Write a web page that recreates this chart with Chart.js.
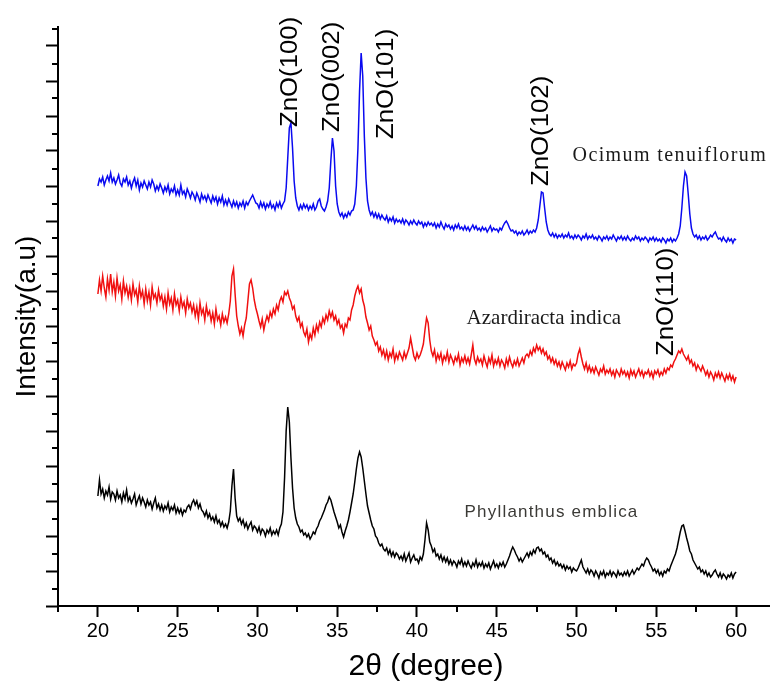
<!DOCTYPE html>
<html>
<head>
<meta charset="utf-8">
<script src="https://cdn.jsdelivr.net/npm/chart.js@4.4.1/dist/chart.umd.min.js"></script>
<style>
  html, body { margin: 0; padding: 0; background: #fff; overflow: hidden; }
  canvas { display: block; }
</style>
</head>
<body>
<canvas id="xrd" width="794" height="689"></canvas>
<script>
// scan grid: 20.0 .. 60.0 deg 2theta, 0.1 deg per step
const scanStart = 20;
const scanStep = 0.1;

// Ocimum tenuiflorum (blue), one row per degree
const ocimumCounts = [
  420, 427, 424, 429, 421, 426, 430, 425, 433, 424,
  428, 422, 426, 431, 423, 420, 427, 424, 429, 421,
  425, 418, 424, 428, 420, 426, 416, 423, 419, 425,
  421, 417, 424, 419, 426, 422, 415, 420, 416, 422,
  418, 413, 419, 415, 421, 412, 417, 414, 420, 411,
  416, 411, 421, 412, 415, 409, 417, 413, 408, 414,
  411, 406, 413, 409, 404, 412, 407, 410, 405, 411,
  407, 403, 410, 405, 409, 402, 408, 404, 410, 401,
  406, 401, 407, 403, 399, 405, 400, 404, 398, 403,
  400, 405, 398, 404, 401, 405, 408, 411, 407, 403,
  402, 398, 404, 399, 403, 397, 402, 399, 404, 398,
  401, 396, 403, 399, 404, 398, 402, 405, 418, 448,
  478, 483, 458, 425, 408, 400, 396, 401, 397, 402,
  398, 401, 396, 400, 397, 402, 396, 399, 405, 407,
  400, 397, 395, 399, 405, 418, 445, 468, 455, 420,
  402, 394, 390, 393, 388, 392, 389, 394, 391, 395,
  396, 402, 420, 458, 515, 553, 530, 470, 428, 405,
  396, 391, 394, 389, 393, 388, 392, 387, 391, 388,
  386, 390, 384, 388, 385, 389, 383, 387, 384, 386,
  383, 387, 382, 386, 384, 381, 385, 382, 386, 383,
  381, 385, 382, 384, 379, 383, 380, 384, 381, 383,
  380, 383, 378, 382, 379, 384, 380, 377, 382, 379,
  381, 377, 380, 376, 381, 378, 382, 377, 379, 376,
  380, 376, 379, 375, 378, 381, 377, 380, 376, 378,
  375, 379, 376, 378, 374, 377, 380, 375, 378, 376,
  377, 374, 378, 376, 380, 383, 385, 382, 378, 375,
  376, 373, 375, 371, 374, 372, 375, 371, 373, 376,
  372, 375, 373, 376, 374, 378, 386, 400, 414, 413,
  398, 384, 376, 372, 370, 373, 369, 372, 368, 371,
  369, 372, 368, 371, 369, 373, 368, 370, 367, 371,
  368, 371, 369, 366, 370, 368, 372, 367, 370, 368,
  371, 367, 369, 366, 370, 368, 365, 369, 367, 370,
  366, 369, 367, 371, 368, 365, 369, 367, 370, 366,
  369, 366, 370, 367, 365, 368, 366, 370, 367, 369,
  365, 368, 366, 369, 367, 364, 368, 366, 369, 365,
  368, 365, 367, 364, 368, 366, 363, 367, 365, 368,
  364, 367, 365, 368, 372, 380, 398, 420, 434, 430,
  412, 392, 378, 372, 369, 371, 367, 370, 366, 369,
  367, 370, 366, 368, 371, 369, 372, 374, 370, 367,
  368, 365, 369, 366, 364, 368, 365, 367, 363, 367,
  366
];

// Azardiracta indica (red)
const azardiractaCounts = [
  312, 326, 315, 330, 318, 309, 327, 316, 332, 314,
  324, 310, 328, 315, 321, 307, 325, 313, 320, 309,
  318, 306, 322, 311, 316, 304, 320, 309, 315, 302,
  317, 305, 314, 301, 319, 308, 312, 303, 316, 306,
  311, 300, 309, 297, 313, 302, 308, 296, 312, 301,
  306, 295, 309, 299, 304, 293, 307, 298, 303, 294,
  301, 290, 299, 287, 303, 292, 297, 286, 300, 291,
  295, 285, 293, 282, 297, 286, 290, 281, 292, 284,
  289, 283, 292, 305, 330, 337, 312, 290, 280, 272,
  278, 270, 281, 288, 305, 322, 326, 318, 306, 298,
  292, 285, 279, 287, 276, 284, 290, 285, 294, 289,
  297, 292, 301, 296, 305, 309, 304, 314, 311, 315,
  308, 304, 297, 300, 290, 285, 289, 279, 283, 274,
  270, 277, 264, 272, 267, 278, 271, 281, 275, 284,
  279, 288, 283, 291, 286, 295, 289, 294, 286, 290,
  282, 286, 278, 281, 273, 282, 279, 288, 286, 296,
  301, 310, 316, 320, 313, 317, 306, 300, 289, 283,
  276, 280, 270, 266, 261, 264, 255, 259, 251, 256,
  248, 255, 246, 253, 249, 257, 245, 252, 247, 254,
  250, 246, 254, 248, 253, 258, 268, 259, 250, 246,
  253, 248, 251, 256, 262, 276, 288, 283, 266, 255,
  250, 256, 245, 252, 247, 253, 243, 250, 246, 254,
  244, 251, 247, 242, 249, 245, 252, 241, 248, 244,
  250, 243, 248, 242, 251, 261, 247, 242, 249, 244,
  247, 241, 250, 244, 239, 248, 243, 251, 240, 246,
  242, 248, 240, 246, 243, 238, 247, 241, 249, 243,
  239, 245, 241, 247, 240, 244, 248, 243, 250, 252,
  249, 255, 251, 258, 254, 261, 256, 259, 253, 257,
  251, 254, 247, 250, 244, 248, 242, 246, 240, 244,
  238, 244, 240, 236, 243, 239, 245, 237, 242, 240,
  243, 252, 257, 249, 242, 237, 243, 235, 240, 234,
  238, 233, 239, 235, 231, 237, 234, 240, 232, 236,
  233, 237, 231, 235, 229, 236, 233, 230, 237, 232,
  235, 230, 234, 228, 236, 231, 235, 229, 233, 237,
  231, 235, 229, 234, 232, 236, 230, 234, 228, 235,
  232, 236, 230, 234, 231, 237, 233, 238, 236, 241,
  239, 244, 247, 251, 255, 253, 257, 252, 249, 246,
  250, 243, 246, 240, 243, 236, 241, 238, 235, 240,
  236, 231, 235, 229, 234, 231, 226, 233, 229, 234,
  228, 233, 229, 225, 231, 227, 232, 226, 230, 224,
  229
];

// Phyllanthus emblica (black)
const phyllanthusCounts = [
  110, 126, 112, 117, 108, 115, 111, 119, 107, 114,
  112, 106, 115, 108, 111, 104, 113, 107, 116, 105,
  109, 103, 107, 112, 101, 106, 110, 102, 108, 104,
  99, 106, 101, 104, 97, 103, 108, 98, 102, 96,
  101, 95, 100, 97, 103, 94, 99, 96, 101, 93,
  98, 93, 97, 91, 96, 94, 99, 101, 97, 103,
  106, 101, 105, 98, 102, 96, 94, 90, 95, 88,
  92, 86, 89, 84, 90, 83, 86, 80, 84, 79,
  82, 78, 84, 95, 120, 137, 108, 90, 85, 88,
  82, 86, 79, 83, 77, 81, 84, 76, 80, 78,
  74, 79, 72, 77, 75, 70, 76, 73, 78, 71,
  75, 72, 76, 71, 78, 82, 94, 128, 175, 199,
  184, 148, 118, 98, 88, 82, 79, 74, 76, 71,
  73, 69, 72, 67, 70, 74, 72, 77, 80, 85,
  88, 92, 96, 101, 104, 109, 106, 100, 94, 89,
  84, 78, 81, 74, 69, 75, 80, 86, 94, 103,
  112, 124, 137, 148, 154, 149, 138, 125, 112, 100,
  93, 86, 80, 77, 70, 68, 63, 60, 62, 57,
  55, 58, 52, 56, 50, 54, 49, 53, 51, 47,
  50, 46, 52, 45, 49, 53, 44, 48, 51, 46,
  47, 43, 49, 46, 52, 66, 83, 76, 64, 60,
  54, 57, 50, 52, 47, 51, 45, 49, 44, 48,
  42, 46, 41, 45, 43, 39, 45, 42, 47, 40,
  44, 40, 45, 41, 38, 43, 40, 46, 39, 43,
  40, 44, 38, 42, 39, 43, 37, 41, 45, 39,
  42, 38, 43, 40, 44, 39, 42, 46, 50, 55,
  59, 56, 52, 49, 45, 48, 44, 47, 50, 53,
  49, 54, 51, 56, 53, 58, 59, 55, 57, 52,
  54, 49, 51, 46, 48, 43, 46, 41, 44, 40,
  42, 38, 41, 36, 40, 37, 39, 34, 38, 36,
  35, 38, 42, 46, 39, 36, 33, 37, 32, 36,
  34, 30, 35, 32, 28, 34, 31, 35, 29, 33,
  31, 35, 30, 34, 32, 29, 35, 31, 33, 30,
  34, 31, 35, 30, 33, 36, 32, 35, 38, 36,
  39, 42, 40, 45, 48, 46, 42, 39, 35, 37,
  33, 36, 31, 34, 30, 35, 33, 37, 35, 40,
  44, 48, 52, 58, 66, 74, 80, 81, 75, 68,
  62, 55, 52, 46, 43, 40, 37, 39, 34, 36,
  32, 35, 30, 33, 29, 31, 34, 36, 32, 29,
  33, 28, 32, 30, 27, 31, 29, 33, 28, 32,
  34
];

// axis ticks
const xLabelTicks = [20, 25, 30, 35, 40, 45, 50, 55, 60];
const xMinorTicks = [17.5, 22.5, 27.5, 32.5, 37.5, 42.5, 47.5, 52.5, 57.5, 62.5];
const yMajorTicks = [0, 35, 70, 105, 140, 175, 210, 245, 280, 315, 350, 385, 420, 455, 490, 525, 560];
const yMinorTicks = [17.5, 52.5, 87.5, 122.5, 157.5, 192.5, 227.5, 262.5, 297.5, 332.5, 367.5, 402.5, 437.5, 472.5, 507.5, 542.5, 577.5];

// reflection labels and sample names: [2theta, intensity] anchors
const peakLabels = ['ZnO(100)', 'ZnO(002)', 'ZnO(101)', 'ZnO(102)', 'ZnO(110)'];
const peakLabelAt = [[32.08, 479], [34.71, 474], [38.09, 467], [47.79, 420], [55.63, 250]];
const sampleNames = ['Ocimum tenuiflorum', 'Azardiracta indica', 'Phyllanthus emblica'];
const sampleNameAt = [[49.75, 450], [43.11, 288], [42.98, 94]];

function toPoints(counts) {
  return counts.map((c, i) => ({ x: +(scanStart + i * scanStep).toFixed(1), y: c }));
}

const SANS = '"Liberation Sans", Arial, sans-serif';
const NARROW = '"Liberation Sans Narrow", "Liberation Sans", Arial, sans-serif';
const SERIF = '"Liberation Serif", "Times New Roman", serif';

const decorations = {
  id: 'decorations',
  afterDraw(chart) {
    const { ctx, scales: { x, y } } = chart;
    ctx.save();
    ctx.strokeStyle = '#000';
    ctx.lineWidth = 2;
    xMinorTicks.forEach(v => {
      const px = Math.round(x.getPixelForValue(v));
      ctx.beginPath();
      ctx.moveTo(px, y.bottom);
      ctx.lineTo(px, y.bottom + 6);
      ctx.stroke();
    });
    yMinorTicks.forEach(v => {
      const py = Math.round(y.getPixelForValue(v));
      ctx.beginPath();
      ctx.moveTo(x.left - 6, py);
      ctx.lineTo(x.left, py);
      ctx.stroke();
    });

    ctx.fillStyle = '#000';
    ctx.font = '23px ' + SANS;
    ctx.textAlign = 'left';
    ctx.textBaseline = 'middle';
    peakLabels.forEach((t, i) => {
      const [vx, vy] = peakLabelAt[i];
      ctx.save();
      ctx.translate(x.getPixelForValue(vx), y.getPixelForValue(vy));
      ctx.rotate(-Math.PI / 2);
      ctx.scale(1.12, 1);
      ctx.fillText(t, 0, 0);
      ctx.restore();
    });

    const nameFonts = ['20px ' + SERIF, '21px ' + SERIF, '17px ' + SANS];
    const nameColors = ['#1a1a1a', '#1a1a1a', '#3b3a36'];
    const nameSpacing = ['1.4px', '0px', '1.2px'];
    sampleNames.forEach((t, i) => {
      const [vx, vy] = sampleNameAt[i];
      ctx.font = nameFonts[i];
      ctx.fillStyle = nameColors[i];
      ctx.letterSpacing = nameSpacing[i];
      ctx.fillText(t, x.getPixelForValue(vx), y.getPixelForValue(vy));
    });
    ctx.restore();
  }
};

new Chart(document.getElementById('xrd'), {
  type: 'line',
  data: {
    datasets: [
      { label: 'Phyllanthus emblica', data: toPoints(phyllanthusCounts), borderColor: '#000000' },
      { label: 'Azardiracta indica', data: toPoints(azardiractaCounts), borderColor: '#f01010' },
      { label: 'Ocimum tenuiflorum', data: toPoints(ocimumCounts), borderColor: '#0a0af0' }
    ]
  },
  options: {
    responsive: false,
    animation: false,
    devicePixelRatio: 1,
    layout: { padding: { top: 27, right: 0, bottom: 0, left: 0 } },
    elements: {
      point: { radius: 0 },
      line: { borderWidth: 1.5, tension: 0 }
    },
    plugins: { legend: { display: false }, tooltip: { enabled: false } },
    scales: {
      x: {
        type: 'linear',
        min: 17.5,
        max: 63.63,
        afterFit: s => { s.height = 83; },
        afterBuildTicks: s => { s.ticks = xLabelTicks.map(v => ({ value: v })); },
        border: { display: true, color: '#000', width: 2 },
        grid: { drawOnChartArea: false, drawTicks: true, tickLength: 11, tickWidth: 2, tickColor: '#000', color: '#000' },
        ticks: { color: '#000', font: { family: NARROW, size: 20 }, padding: 2, maxRotation: 0 },
        title: { display: true, text: '2θ (degree)', color: '#000', font: { family: NARROW, size: 30 }, padding: { top: 0, bottom: 4 } }
      },
      y: {
        type: 'linear',
        min: 0,
        max: 579,
        afterFit: s => { s.width = 58; },
        afterBuildTicks: s => { s.ticks = yMajorTicks.map(v => ({ value: v })); },
        border: { display: true, color: '#000', width: 2 },
        grid: { drawOnChartArea: false, drawTicks: true, tickLength: 12, tickWidth: 2, tickColor: '#000', color: '#000' },
        ticks: { display: false },
        title: { display: true, text: 'Intensity(a.u)', color: '#000', font: { family: SANS, size: 28 }, padding: { top: 10, bottom: 0 } }
      }
    }
  },
  plugins: [decorations]
});
</script>
</body>
</html>
